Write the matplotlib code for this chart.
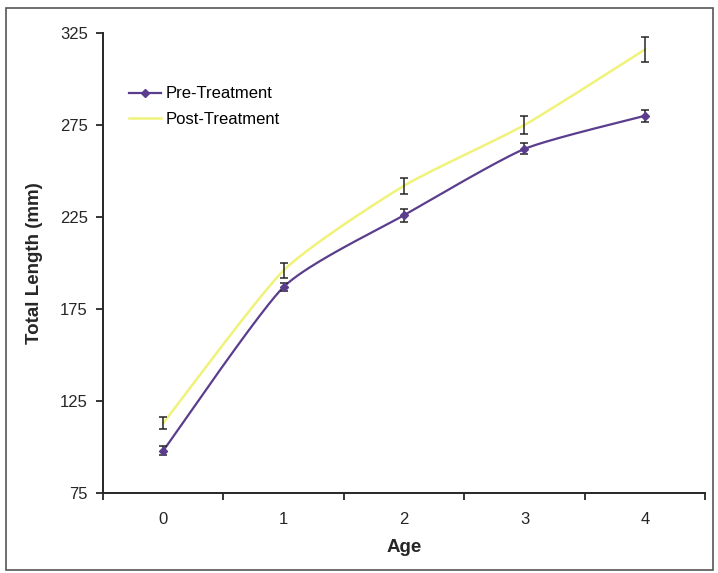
import numpy as np
import matplotlib
matplotlib.use("Agg")
import matplotlib.pyplot as plt
from matplotlib.patches import Rectangle

# --- values ----------------------------------------------------------

ages      = [0, 1, 2, 3, 4]
pre       = [98, 187, 226, 262, 280]
pre_err   = [2.5, 2.0, 3.5, 3.0, 3.4]
post      = [113, 196, 242, 275, 316]
post_err  = [3.3, 4.0, 4.3, 5.0, 7.0]
y_ticks   = [75, 125, 175, 225, 275, 325]

PURPLE = "#5a3d8c"
YELLOW = "#f0f27a"
INK    = "#262626"


def smooth(x, y, k=0.6, n=40):
  # hermite curve through the points with softened tangents (excel-ish smoothing)
  x = np.asarray(x, float)
  y = np.asarray(y, float)
  gx = np.concatenate([[x[0]], x, [x[-1]]])
  gy = np.concatenate([[y[0]], y, [y[-1]]])
  mx = k * (gx[2:] - gx[:-2]) / 2
  my = k * (gy[2:] - gy[:-2]) / 2
  t = np.linspace(0, 1, n)
  h00 = 2*t**3 - 3*t**2 + 1
  h10 = t**3 - 2*t**2 + t
  h01 = -2*t**3 + 3*t**2
  h11 = t**3 - t**2
  xs, ys = [], []
  for i in range(len(x) - 1):
    xs.extend(h00*x[i] + h10*mx[i] + h01*x[i+1] + h11*mx[i+1])
    ys.extend(h00*y[i] + h10*my[i] + h01*y[i+1] + h11*my[i+1])
  return xs, ys


plt.rcParams['font.family'] = ['Liberation Sans', 'DejaVu Sans']

fig = plt.figure(figsize=(7.18, 5.73), dpi=100)
ax = fig.add_axes([0.1435, 0.1396, 0.8385, 0.8028])

# outer frame around the whole chart
fig.patches.append(Rectangle((0.008, 0.005), 0.985, 0.981, transform=fig.transFigure,
                             fill=False, edgecolor="#555555", lw=1.2))

sx, sy = smooth(ages, post)
ax.plot(sx, sy, color=YELLOW, lw=1.8, zorder=2)
sx, sy = smooth(ages, pre)
ax.plot(sx, sy, color=PURPLE, lw=1.6, zorder=3)

ax.errorbar(ages, post, yerr=post_err, fmt="none", ecolor=INK, elinewidth=1.1,
            capsize=2.8, capthick=1.1, zorder=4)
ax.errorbar(ages, pre, yerr=pre_err, fmt="none", ecolor=INK, elinewidth=1.1,
            capsize=2.8, capthick=1.1, zorder=4)
ax.plot(ages, pre, linestyle="none", marker="D", ms=4, color=PURPLE, zorder=5)

# legend handles
ax.plot([], [], color=PURPLE, lw=1.6, marker="D", ms=4, label="Pre-Treatment")
ax.plot([], [], color=YELLOW, lw=1.8, label="Post-Treatment")
h, l = ax.get_legend_handles_labels()
ax.legend(h[-2:], l[-2:], loc="upper left", bbox_to_anchor=(0.043, 0.884),
          frameon=False, fontsize=12, handlelength=1.9, handletextpad=0.3,
          labelspacing=0.62, borderpad=0, borderaxespad=0)

ax.set_xlim(-0.5, 4.5)
ax.set_ylim(75, 325)
ax.set_yticks(y_ticks)
ax.set_xticks(np.arange(-0.5, 5.0, 1.0))
ax.set_xticklabels([])
ax.set_xticks(ages, minor=True)
ax.set_xticklabels([str(a) for a in ages], minor=True)
ax.tick_params(axis="x", which="minor", length=0, pad=14)
ax.tick_params(axis="x", which="major", length=5, width=1.3, direction="out", color=INK)
ax.tick_params(axis="y", length=5, width=1.3, direction="out", color=INK, pad=6)
ax.tick_params(labelsize=12, labelcolor=INK, which="both")

for s in ("top", "right"):
  ax.spines[s].set_visible(False)
for s in ("left", "bottom"):
  ax.spines[s].set_linewidth(1.4)
  ax.spines[s].set_color(INK)

ax.set_xlabel("Age", fontsize=13.5, fontweight="bold", color=INK, labelpad=8)
ax.set_ylabel("Total Length (mm)", fontsize=13.5, fontweight="bold", color=INK, labelpad=12)

fig.savefig("out.png", dpi=100)
